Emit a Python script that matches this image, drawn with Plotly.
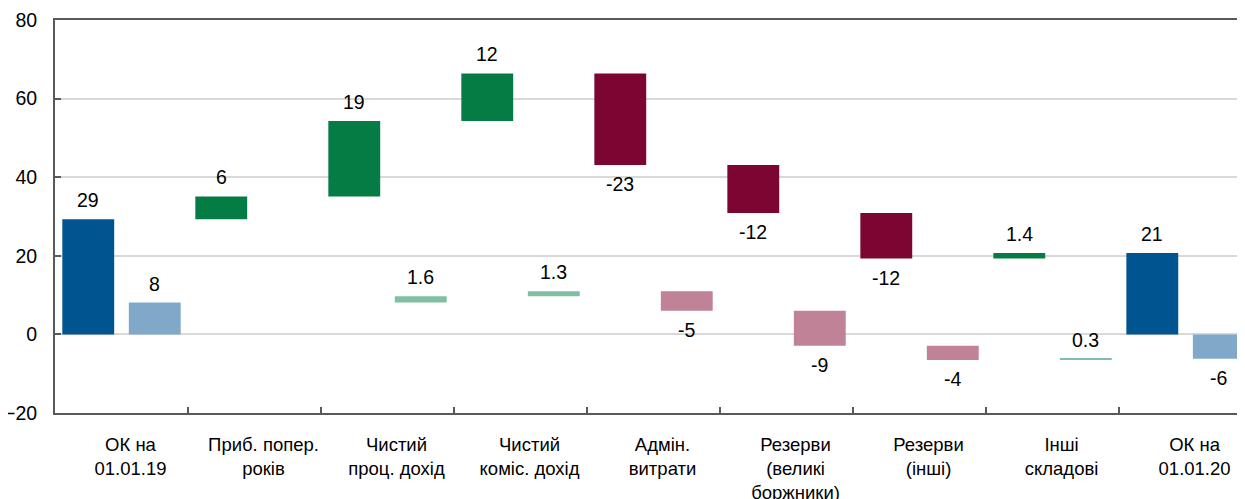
import plotly.graph_objects as go

categories = ["ОК на 01.01.19", "Приб. попер. років", "Чистий проц. дохід",
              "Чистий коміс. дохід", "Адмін. витрати", "Резерви (великі боржники)",
              "Резерви (інші)", "Інші складові", "ОК на 01.01.20"]
tick_labels = ["ОК на<br>01.01.19", "Приб. попер.<br>років", "Чистий<br>проц. дохід",
               "Чистий<br>коміс. дохід", "Адмін.<br>витрати", "Резерви<br>(великі<br>боржники)",
               "Резерви<br>(інші)", "Інші<br>складові", "ОК на<br>01.01.20"]
measures = ["absolute", "relative", "relative", "relative", "relative",
            "relative", "relative", "relative", "total"]
dark_values = [29.3, 5.8, 19.2, 12.1, -23.3, -12.2, -11.6, 1.4, 20.7]
light_values = [8.1, None, 1.6, 1.3, -5.0, -8.9, -3.6, 0.3, -6.2]

dark_colors = {"total": "#00548F", "pos": "#067C45", "neg": "#7D0532"}
light_colors = {"total": "#80A9C9", "pos": "#80BFA1", "neg": "#BF8297"}

FONT = "Liberation Sans, Arial, sans-serif"


def label(v):
    if abs(v) < 2:
        return f"{v:.1f}"
    return f"{round(v):d}"


def waterfall(values, palette):
    bases, heights, colors = [], [], []
    running = 0.0
    for v, m in zip(values, measures):
        if v is None:
            bases.append(None); heights.append(None); colors.append(palette["pos"])
            continue
        if m in ("absolute", "total"):
            b = 0.0
            running = v
            c = palette["total"]
        else:
            b = running
            running += v
            c = palette["pos"] if v >= 0 else palette["neg"]
        bases.append(b); heights.append(v); colors.append(c)
    return bases, heights, colors


fig = go.Figure()
annotations = []
for idx, (vals, pal) in enumerate([(dark_values, dark_colors), (light_values, light_colors)]):
    bases, heights, colors = waterfall(vals, pal)
    fig.add_trace(go.Bar(
        x=categories, y=heights, base=bases, marker=dict(color=colors, line=dict(width=0)),
        offsetgroup=str(idx), hoverinfo="skip", showlegend=False))
    off = -0.25 if idx == 0 else 0.25
    for i, (b, h) in enumerate(zip(bases, heights)):
        if h is None:
            continue
        end = b + h
        annotations.append(dict(
            x=i + off, y=end, xref="x", yref="y", text=label(h), showarrow=False,
            yanchor="bottom" if h >= 0 else "top", yshift=6 if h >= 0 else -6,
            font=dict(family=FONT, size=19.5, color="#000000")))

# page body has an 8px default margin, so the figure is 8px smaller than the window
fig.update_layout(
    width=1237, height=491,
    margin=dict(l=47, r=0, t=12, b=86, autoexpand=False),
    paper_bgcolor="white", plot_bgcolor="white",
    barmode="group", bargap=0, bargroupgap=0.22,
    annotations=annotations,
    font=dict(family=FONT, size=19.5, color="#000000"),
)
fig.update_xaxes(
    type="category", categoryorder="array", categoryarray=categories,
    tickvals=categories, ticktext=tick_labels, automargin=False,
    range=[-0.5, 8.447], tickson="boundaries", ticks="inside", ticklen=6,
    tickcolor="#595959", tickwidth=2,
    showline=True, linecolor="#595959", linewidth=2, mirror=True,
    showgrid=False, ticklabelstandoff=14, ticklabelshift=9,
    tickfont=dict(family=FONT, size=18.5, color="#000000"))
fig.update_yaxes(
    range=[-20, 80], dtick=20, tick0=0, automargin=False,
    ticks="inside", ticklen=6, tickcolor="#595959", tickwidth=2,
    showline=True, linecolor="#595959", linewidth=2,
    showgrid=True, gridcolor="#D9D9D9", gridwidth=1.5, zeroline=False,
    ticklabelstandoff=12,
    tickfont=dict(family=FONT, size=19.5, color="#000000"))

fig.write_html("out.html")
